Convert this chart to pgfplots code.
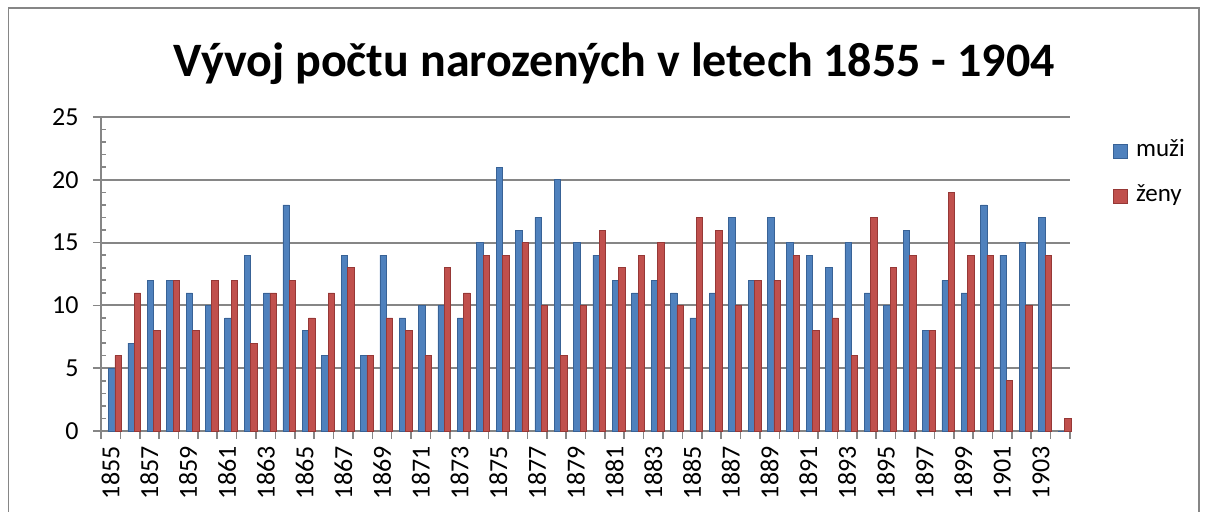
\documentclass[border=0pt]{standalone}
\usepackage{fontspec}
\setmainfont{Carlito}
\usepackage{pgfplots}
\usepackage{pgfplotstable}
\pgfplotsset{compat=1.18}
\definecolor{mblue}{RGB}{79,129,189}
\definecolor{mbluedk}{RGB}{56,98,150}
\definecolor{zred}{RGB}{192,80,77}
\definecolor{zreddk}{RGB}{150,56,54}
\definecolor{axgray}{RGB}{134,134,134}
\newcommand{\tickfont}{\fontsize{13}{15}\selectfont}
\newcommand{\legfont}{\fontsize{12.5}{15}\selectfont}
\pgfplotstableread{
x m z
0 5 6
1 7 11
2 12 8
3 12 12
4 11 8
5 10 12
6 9 12
7 14 7
8 11 11
9 18 12
10 8 9
11 6 11
12 14 13
13 6 6
14 14 9
15 9 8
16 10 6
17 10 13
18 9 11
19 15 14
20 21 14
21 16 15
22 17 10
23 20 6
24 15 10
25 14 16
26 12 13
27 11 14
28 12 15
29 11 10
30 9 17
31 11 16
32 17 10
33 12 12
34 17 12
35 15 14
36 14 8
37 13 9
38 15 6
39 11 17
40 10 13
41 16 14
42 8 8
43 12 19
44 11 14
45 18 14
46 14 4
47 15 10
48 17 14
49 0 1
}\births
\begin{document}
\begin{tikzpicture}
\useasboundingbox (0,0) rectangle (603pt,256pt);
\draw[axgray, line width=0.8pt] (4.2pt,-5pt) -- (4.2pt,252pt) -- (599.6pt,252pt) -- (599.6pt,-5pt);
\node[font=\bfseries\fontsize{24}{29}\selectfont, anchor=base] at (307pt,217.5pt) {Vývoj počtu narozených v letech 1855 - 1904};
\begin{axis}[
  at={(50.5pt,40.5pt)}, anchor=south west,
  scale only axis, width=484.5pt, height=157pt,
  xmin=-0.5, xmax=49.5, ymin=0, ymax=25,
  clip=false,
  axis lines=left, axis line style={-, axgray, line width=1pt},
  ytick={0,5,...,25}, minor y tick num=4,
  ymajorgrids, major grid style={axgray, line width=1pt},
  tick align=outside,
  tick style={axgray, line width=0.8pt},
  major tick length=4pt, minor tick length=2.5pt,
  every minor y tick/.append style={xshift=2.5pt},
  xtick={-0.5,0.5,...,49.5}, xticklabels={},
  extra x ticks={0,2,...,48},
  extra x tick labels={1855,1857,1859,1861,1863,1865,1867,1869,1871,1873,1875,1877,1879,1881,1883,1885,1887,1889,1891,1893,1895,1897,1899,1901,1903},
  extra x tick style={major tick length=0pt, grid=none},
  tick label style={font=\tickfont},
  xticklabel style={rotate=90, anchor=east, inner sep=0pt, xshift=-7.5pt, font=\tickfont},
  yticklabel style={anchor=east, inner sep=0pt, xshift=-7pt, font=\tickfont},
  /pgf/number format/assume math mode=true,
  legend style={at={(1.0444,0.933)}, anchor=north west, draw=none, fill=none,
    font=\legfont, row sep=10.5pt, inner sep=0pt,
    nodes={inner sep=0pt, anchor=base west, text height=9pt, text depth=3pt, font=\legfont}},
  legend cell align=left,
  legend image code/.code={\fill[#1] (0pt,-1pt) rectangle (7pt,6pt);},
]
\addplot[ybar, bar width=3.2pt, bar shift=0.5pt, fill=mblue, draw=mbluedk, line width=0.3pt] table[x=x, y=m] {\births};
\addlegendentry{\legfont\hspace{4pt}muži}
\addplot[ybar, bar width=3.2pt, bar shift=3.7pt, fill=zred, draw=zreddk, line width=0.3pt] table[x=x, y=z] {\births};
\addlegendentry{\legfont\hspace{4pt}ženy}
\end{axis}
\end{tikzpicture}
\end{document}
